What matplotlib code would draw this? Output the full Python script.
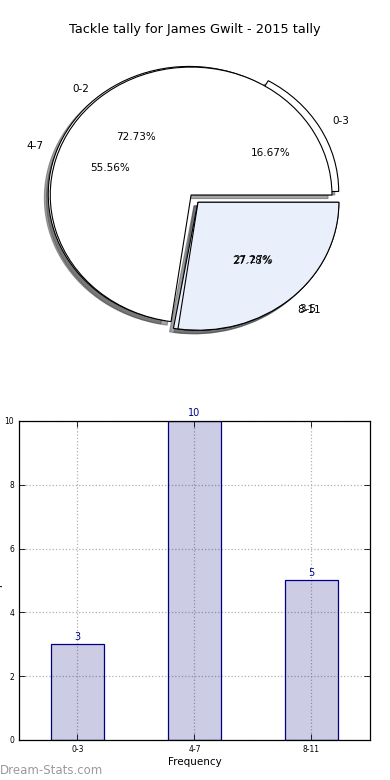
import matplotlib
matplotlib.use("Agg")
import matplotlib.pyplot as plt

# tally buckets for the season
bucket_labels = ["0-3", "4-7", "8-11"]
bucket_counts = [3, 10, 5]

# second split that was drawn over the first one
split_labels = ["0-2", "3-5"]
split_counts = [8, 3]

title = "Tackle tally for James Gwilt - 2015 tally"
light_blue = "#eaf0fb"

fig = plt.figure(figsize=(3.9, 7.8), dpi=100)

# --- pie (two pies stacked on the same axes) ---
ax_pie = fig.add_axes([0.0385, 0.545, 0.903, 0.410])
ax_pie.pie(bucket_counts, labels=bucket_labels, autopct="%1.2f%%",
           explode=(0.055, 0.015, 0.075), shadow=True,
           colors=["white", "white", light_blue],
           wedgeprops={"edgecolor": "black", "linewidth": 0.8},
           textprops={"fontsize": 7.5})
ax_pie.pie(split_counts, labels=split_labels, autopct="%1.2f%%",
           explode=(0, 0.075), shadow=True,
           colors=["white", light_blue],
           wedgeprops={"edgecolor": "black", "linewidth": 0.8},
           textprops={"fontsize": 7.5})
ax_pie.set_aspect("auto")
ax_pie.set_xlim(-1.25, 1.25)
ax_pie.set_ylim(-1.25, 1.25)

fig.text(0.5, 1 - 30 / 780, title, ha="center", va="center", fontsize=9.3)

# --- bar chart ---
ax_bar = fig.add_axes([0.0487, 0.0513, 0.9, 0.409])
x = range(len(bucket_labels))
bars = ax_bar.bar(x, bucket_counts, width=0.45,
                  facecolor=(0, 0, 0.5, 0.2), edgecolor="navy", linewidth=0.9,
                  zorder=2)
for b, v in zip(bars, bucket_counts):
    ax_bar.text(b.get_x() + b.get_width() / 2, v + 0.08, str(v),
                ha="center", va="bottom", color="navy", fontsize=7)

ax_bar.set_xlim(-0.5, 2.5)
ax_bar.set_ylim(0, 10)
ax_bar.set_xticks(list(x))
ax_bar.set_xticklabels(bucket_labels)
ax_bar.set_yticks([0, 2, 4, 6, 8, 10])
ax_bar.tick_params(direction="in", top=True, right=True, labelsize=5.5,
                   length=4, width=0.6)
ax_bar.grid(True, linestyle=":", color="#b0b0b0", linewidth=0.9, zorder=0)
ax_bar.set_axisbelow(True)
for sp in ax_bar.spines.values():
    sp.set_linewidth(0.9)
ax_bar.set_xlabel("Frequency", fontsize=7.5, labelpad=2)
# label sits mostly outside the figure, as in the original export
ax_bar.set_ylabel("Tackles per match", fontsize=7.5)
ax_bar.yaxis.set_label_coords(-0.046, 0.5)

fig.text(0.0, 1 - 770 / 780, "Dream-Stats.com", ha="left", va="center",
         fontsize=8.5, color="#9a9a9a")

fig.savefig("out.png", dpi=100)
